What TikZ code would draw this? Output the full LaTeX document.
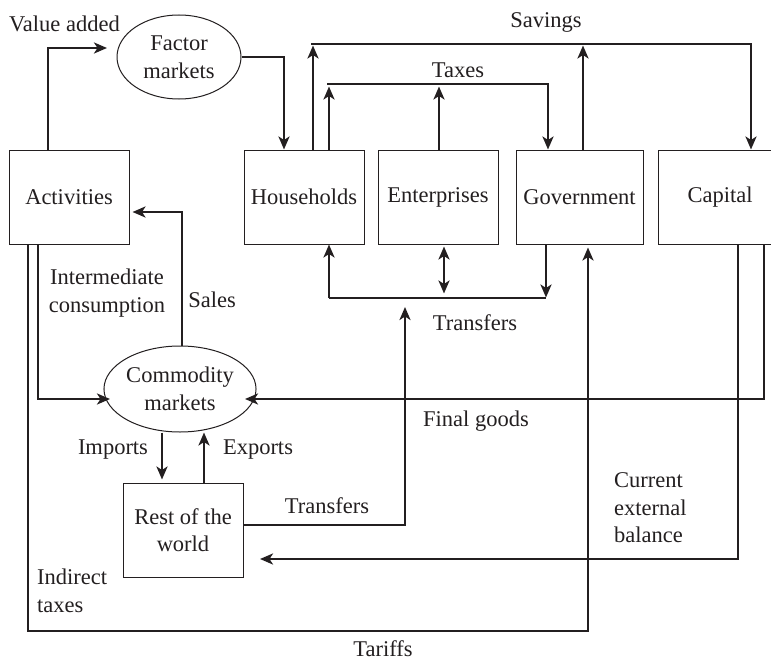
\documentclass[tikz,border=0pt]{standalone}
\usepackage{fontspec}
\setmainfont{Liberation Serif}
\usetikzlibrary{shapes.geometric,arrows.meta,calc}
\newcommand\dlbl{\fontsize{22.5}{27.5}\selectfont}
\definecolor{ink}{HTML}{231F20}
\begin{document}
\begin{tikzpicture}[x=1pt,y=-1pt,
  box/.style={draw=ink, line width=1pt, minimum width=120pt, minimum height=94pt, inner sep=0pt, align=center, font=\dlbl, text=ink},
  oval/.style={draw=ink, ellipse, line width=1pt, inner sep=0pt, align=center, font=\dlbl, text=ink},
  conn/.style={draw=ink, line width=2.6pt},
  arr/.style={conn, -{Stealth[length=13pt,width=11pt,inset=3.5pt]}},
  arrb/.style={conn, {Stealth[length=13pt,width=11pt,inset=3.5pt]}-{Stealth[length=13pt,width=11pt,inset=3.5pt]}},
  lbl/.style={font=\dlbl, align=center, inner sep=0pt, text=ink}]
\clip (0,0) rectangle (771,661);
\fill[white] (0,0) rectangle (771,661);

% nodes
\node[box] (act) at (69,197) {Activities};
\node[oval, minimum width=124pt, minimum height=84pt] (fm) at (179,57) {Factor\\markets};
\node[box] (hh) at (304,197) {Households};
\node[box] (ent) at (438,197) {Enterprises};
\node[box, minimum width=127pt] (gov) at (579.5,197) {Government};
\node[box, minimum width=124pt] (cap) at (720,197) {Capital};
\node[oval, minimum width=123pt, minimum height=86pt] (cm) at (180,389) {Commodity\\markets};
\node[box] (row) at (183,530) {Rest of the\\world};

% coordinates
\coordinate (va) at (107,48);
\coordinate (sv) at (311,44);
\coordinate (tx) at (327,84);
\coordinate (tr) at (329,298);
\coordinate (trr) at (405,307);
\coordinate (tf) at (588,631);
\coordinate (ic) at (110,399);
\coordinate (fg) at (245,399);
\coordinate (ceb) at (260,559);

% connectors
\draw[arr] ([xshift=-21pt]act.north) |- (va);
\draw[arr] (fm.east) -| ([xshift=-20pt]hh.north);
\draw[arr] (sv) -| ([xshift=31pt]cap.north);
\draw[arr] ([xshift=9pt]hh.north) -- ++(0,-104);
\draw[arr] ([xshift=3.5pt]gov.north) -- ++(0,-104);
\draw[arr] (tx) -| ([xshift=-31.5pt]gov.north);
\draw[arr] ([xshift=25pt]hh.north) -- ++(0,-63);
\draw[arr] ([xshift=1pt]ent.north) -- ++(0,-63);
\draw[arr] (tr) -- ([xshift=25pt]hh.south);
\draw[conn] (tr) -- ++(217,0);
\draw[arr] ([xshift=-33.5pt]gov.south) -- ++(0,53);
\draw[arrb] ([xshift=6pt,yshift=-2pt]ent.south) -- ++(0,47);
\draw[arr] ([yshift=5pt]row.east) -| (trr);
\draw[arr] ([xshift=-41pt]act.south) |- (tf) -- ([xshift=8.5pt,yshift=-3pt]gov.south);
\draw[arr] ([xshift=-31pt]act.south) |- (ic);
\draw[arr] ([xshift=2pt]cm.north) |- ([xshift=3pt,yshift=-15pt]act.east);
\draw[arr] ([xshift=44pt]cap.south) |- (fg);
\draw[arr] ([xshift=18pt]cap.south) |- (ceb);
\draw[arr] ([xshift=-18pt]cm.south) -- ++(0,47);
\draw[arr] ([xshift=21pt]row.north) -- ++(0,-50);

% labels
\node[lbl, anchor=west] (lva) at (9,24) {Value added};
\node[lbl] (lsv) at (546,22) {Savings};
\node[lbl] (ltx) at (458,70) {Taxes};
\node[lbl] (ltr) at (475,323) {Transfers};
\node[lbl] (lic) at (107,293) {Intermediate\\consumption};
\node[lbl] (lsa) at (212,300) {Sales};
\node[lbl] (lfg) at (476,421) {Final goods};
\node[lbl] (lim) at (113,450) {Imports};
\node[lbl] (lex) at (258,450) {Exports};
\node[lbl] (ltr2) at (327,506) {Transfers};
\node[lbl, anchor=west, align=left] (lceb) at (614,508) {Current\\external\\balance};
\node[lbl, anchor=west, align=left] (lit) at (37,591) {Indirect\\taxes};
\node[lbl] (ltf) at (383,649) {Tariffs};
\end{tikzpicture}
\end{document}
